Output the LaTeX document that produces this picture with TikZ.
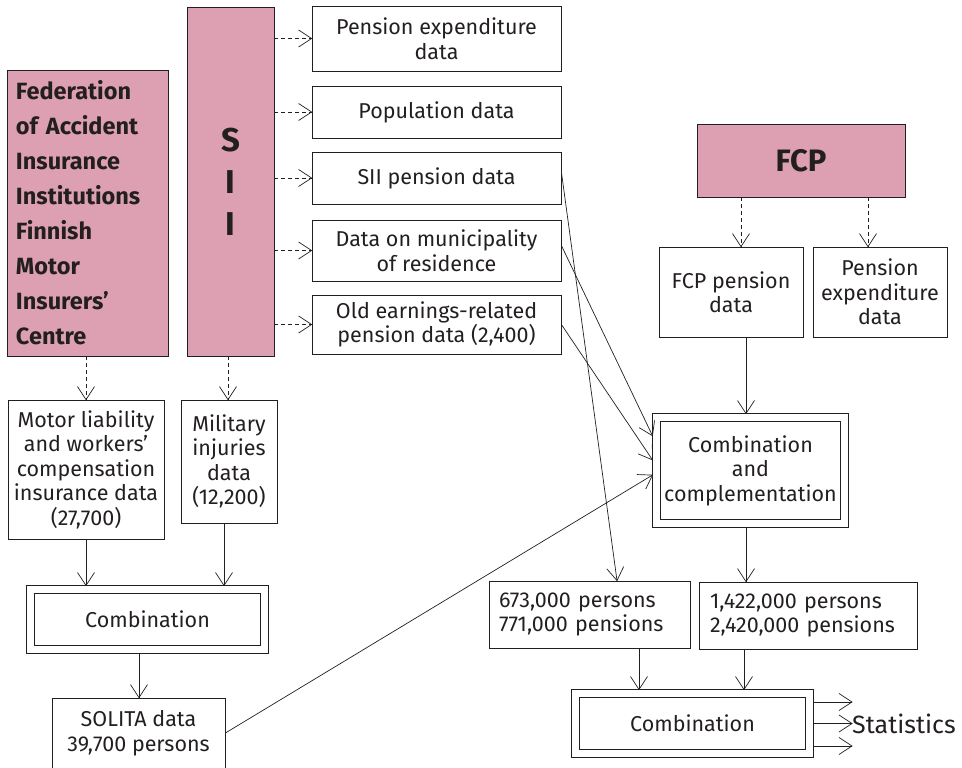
\documentclass[tikz,border=0pt]{standalone}
\usepackage{fontspec}
\setmainfont{Fira Sans}
\usetikzlibrary{calc,decorations.markings}
\definecolor{pinkfill}{RGB}{221,160,178}
\definecolor{ink}{RGB}{35,31,32}
\begin{document}
\begin{tikzpicture}[x=1pt,y=-1pt,
 every node/.style={text=ink},
 box/.style={draw=ink, line width=0.8pt, inner sep=0pt, align=center, font=\fontsize{21.5}{24.5}\selectfont},
 pinkbox/.style={box, fill=pinkfill},
 dbl/.style={box, double=white, double distance=6.5pt, outer sep=4pt},
 arr/.style={draw=ink, line width=0.7pt,
   postaction={decorate, decoration={markings,
     mark=at position 1 with {\draw[solid, line width=0.7pt, line join=miter] (-13pt,8.5pt) -- (0pt,0pt) -- (-13pt,-8.5pt);}}}},
 darr/.style={arr, dash pattern=on 4pt off 3pt},
]
\useasboundingbox (0,0) rectangle (962,768);

% left pink boxes
\node[pinkbox, text width=143pt, align=left, inner xsep=9pt, minimum height=286pt,
  font=\bfseries\fontsize{23.5}{35}\selectfont] (fed) at (87.5,213)
  {Federation\\of Accident\\Insurance\\Institutions\\Finnish\\Motor\\Insurers’\\Centre};
\node[pinkbox, minimum width=87pt, minimum height=349pt, font=\bfseries\fontsize{33}{42}\selectfont] (sii) at (230.5,181.5) {S\\I\\I};

% SII data boxes
\node[box, minimum width=249pt, minimum height=65pt] (pe) at (436.5,38.5) {Pension expenditure\\data};
\node[box, minimum width=249pt, minimum height=52pt] (pop) at (436.5,112) {Population data};
\node[box, minimum width=249pt, minimum height=52pt] (siip) at (436.5,178) {SII pension data};
\node[box, minimum width=249pt, minimum height=61pt] (mun) at (436.5,250.5) {Data on municipality\\of residence};
\node[box, minimum width=249pt, minimum height=59pt] (old) at (436.5,324.5) {Old earnings-related\\pension data (2,400)};

% FCP
\node[pinkbox, minimum width=208pt, minimum height=73pt, font=\bfseries\fontsize{31}{36}\selectfont] (fcp) at (801,160.5) {FCP};
\node[box, minimum width=144pt, minimum height=90pt] (fcpd) at (731,292) {FCP pension\\data};
\node[box, minimum width=134pt, minimum height=90pt] (fcpe) at (880,292) {Pension\\expenditure\\data};

\node[dbl, minimum width=188pt, minimum height=106pt] (cc) at (750.5,470.5) {Combination\\and\\complementation};
\node[box, text width=181pt, inner xsep=10pt, align=left, minimum height=67pt] (p673) at (589.5,614.5) {673,000 persons\\771,000 pensions};
\node[box, text width=196pt, inner xsep=11pt, align=left, minimum height=67pt] (p1422) at (808,615.5) {1,422,000 persons\\2,420,000 pensions};
\node[dbl, minimum width=234pt, minimum height=60pt] (comb2) at (692.5,723.5) {Combination};
\node[anchor=west, inner sep=0pt, font=\fontsize{25}{30}\selectfont] (stat) at (852,724) {Statistics};

% left lower
\node[box, minimum width=156pt, minimum height=139pt] (motor) at (86,469.5) {Motor liability\\and workers’\\compensation\\insurance data\\(27,700)};
\node[box, minimum width=96pt, minimum height=123pt] (mil) at (229,461.5) {Military\\injuries\\data\\(12,200)};
\node[dbl, minimum width=234pt, minimum height=60pt] (comb1) at (147.5,619.5) {Combination};
\node[box, minimum width=173pt, minimum height=70pt] (sol) at (138.5,733) {SOLITA data\\39,700 persons};

% dashed arrows
\foreach \b in {pe,pop,siip,mun,old}
  \draw[darr] (sii.east |- \b.west) -- (\b.west);
\draw[darr] (motor.north |- fed.south) -- (motor.north);
\draw[darr] ([xshift=-1pt]mil.north |- sii.south) -- ([xshift=-1pt]mil.north);
\draw[darr] ([xshift=-60pt]fcp.south) -- ([xshift=-60pt]fcp.south |- fcpd.north);
\draw[darr] ([xshift=67pt]fcp.south) -- ([xshift=67pt]fcp.south |- fcpe.north);

% solid arrows
\coordinate (cw1) at ($(cc.north west)!0.195!(cc.south west)$);
\coordinate (cw2) at ($(cc.north west)!0.407!(cc.south west)$);
\coordinate (cw3) at ($(cc.north west)!0.54!(cc.south west)$);
\draw[arr] ([xshift=15pt]fcpd.south) -- ([xshift=15pt]fcpd.south |- cc.north);
\draw[arr] ([yshift=6pt]siip.east) -- ([xshift=27.5pt]p673.north);
\draw[arr] ([yshift=5pt]mun.east) -- (cw1);
\draw[arr] (old.east) -- (cw2);
\draw[arr] (sol.east) -- (cw3);
\draw[arr] ([xshift=-4.5pt]cc.south) -- ([xshift=-4.5pt]cc.south |- p1422.north);
\draw[arr] ([xshift=49.5pt]p673.south) -- ([xshift=49.5pt]p673.south |- comb2.north);
\draw[arr] ([xshift=-64pt]p1422.south) -- ([xshift=-64pt]p1422.south |- comb2.north);
\draw[arr] (motor.south) -- (motor.south |- comb1.north);
\draw[arr] ([xshift=-5pt]mil.south) -- ([xshift=-5pt]mil.south |- comb1.north);
\draw[arr] ([xshift=-8.5pt]comb1.south) -- ([xshift=-8.5pt]comb1.south |- sol.north);
\foreach \s in {21.5,0,-22.5}
  \draw[arr] ([yshift=\s pt]comb2.east) -- ([yshift=\s pt]comb2.east -| stat.west);
\end{tikzpicture}
\end{document}
